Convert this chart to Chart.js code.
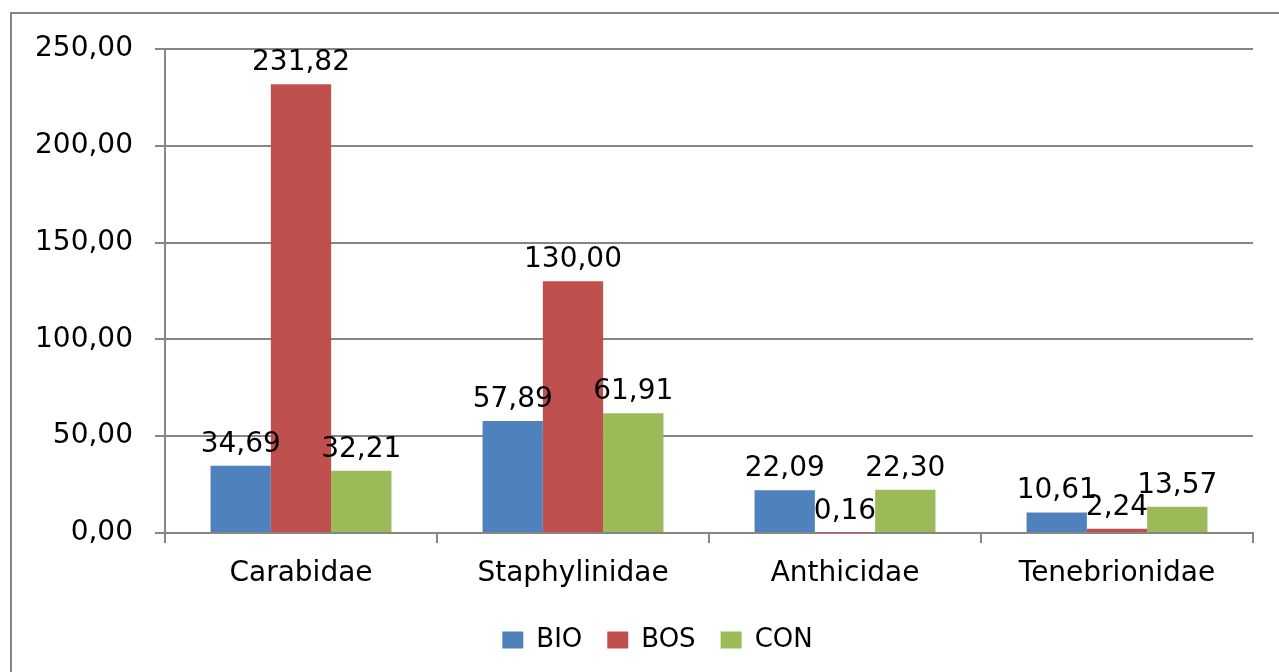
<!DOCTYPE html>
<html>
<head>
<meta charset="utf-8">
<script src="https://cdn.jsdelivr.net/npm/chart.js@4/dist/chart.umd.min.js"></script>
<style>
  html, body { margin: 0; padding: 0; background: #fff; overflow: hidden; width: 1279px; height: 672px; }
  #marco { position: absolute; left: 10px; top: 12px; width: 1400px; height: 800px; border-left: 2px solid #868686; border-top: 2px solid #868686; }
  #wrap { position: absolute; left: 0; top: 0; width: 1279px; height: 672px; }
</style>
</head>
<body>
<div id="marco"></div>
<div id="wrap"><canvas id="grafico"></canvas></div>
<script>
const familias = ['Carabidae', 'Staphylinidae', 'Anthicidae', 'Tenebrionidae'];
const bio = [34.69, 57.89, 22.09, 10.61];
const bos = [231.82, 130.00, 0.16, 2.24];
const con = [32.21, 61.91, 22.30, 13.57];
const ticksY = [0, 50, 100, 150, 200, 250];

const fuente = '"DejaVu Sans", Verdana, sans-serif';
const gris = '#868686';

function coma(v) {
  return v.toFixed(2).replace('.', ',');
}

// etiquetas sobre cada barra
const etiquetas = {
  id: 'etiquetas',
  afterDatasetsDraw(chart) {
    const ctx = chart.ctx;
    ctx.save();
    ctx.font = '28px ' + fuente;
    ctx.fillStyle = '#000';
    ctx.textAlign = 'center';
    ctx.textBaseline = 'alphabetic';
    chart.data.datasets.forEach((ds, i) => {
      chart.getDatasetMeta(i).data.forEach((bar, j) => {
        ctx.fillText(coma(ds.data[j]), bar.x, bar.y - 14);
      });
    });
    ctx.restore();
  },
};

// la leyenda va centrada bajo el área de datos, no bajo el canvas
const leyendaCorrida = {
  id: 'leyendaCorrida',
  afterLayout(chart) {
    const dx = 31;
    chart.legend.left += dx;
    chart.legend.right += dx;
  },
};

new Chart(document.getElementById('grafico'), {
  type: 'bar',
  data: {
    labels: familias,
    datasets: [
      { label: 'BIO', data: bio, backgroundColor: '#4F81BD' },
      { label: 'BOS', data: bos, backgroundColor: '#C0504D' },
      { label: 'CON', data: con, backgroundColor: '#9BBB59' },
    ],
  },
  options: {
    responsive: true,
    maintainAspectRatio: false,
    animation: false,
    datasets: { bar: { categoryPercentage: 0.665, barPercentage: 1 } },
    layout: { padding: { left: 0, right: 26, top: 49, bottom: 9 } },
    plugins: {
      tooltip: { enabled: false },
      legend: {
        position: 'bottom',
        labels: {
          font: { family: fuente, size: 26 },
          color: '#000',
          boxWidth: 21,
          boxHeight: 17,
          padding: 25,
        },
      },
    },
    scales: {
      x: {
        grid: { drawOnChartArea: false, drawTicks: true, tickLength: 10, color: gris, lineWidth: 2 },
        border: { color: gris, width: 2 },
        ticks: { font: { family: fuente, size: 28 }, color: '#000', padding: 14 },
        afterFit(scale) { scale.height = 69; },
      },
      y: {
        min: 0,
        max: 250,
        afterBuildTicks(scale) { scale.ticks = ticksY.map((v) => ({ value: v })); },
        grid: { color: gris, lineWidth: 2, tickLength: 10 },
        border: { color: gris, width: 2 },
        ticks: {
          font: { family: fuente, size: 28 },
          color: '#000',
          padding: 22,
          callback: (v) => coma(v),
        },
        afterFit(scale) { scale.width = 165; },
      },
    },
  },
  plugins: [etiquetas, leyendaCorrida],
});
</script>
</body>
</html>
